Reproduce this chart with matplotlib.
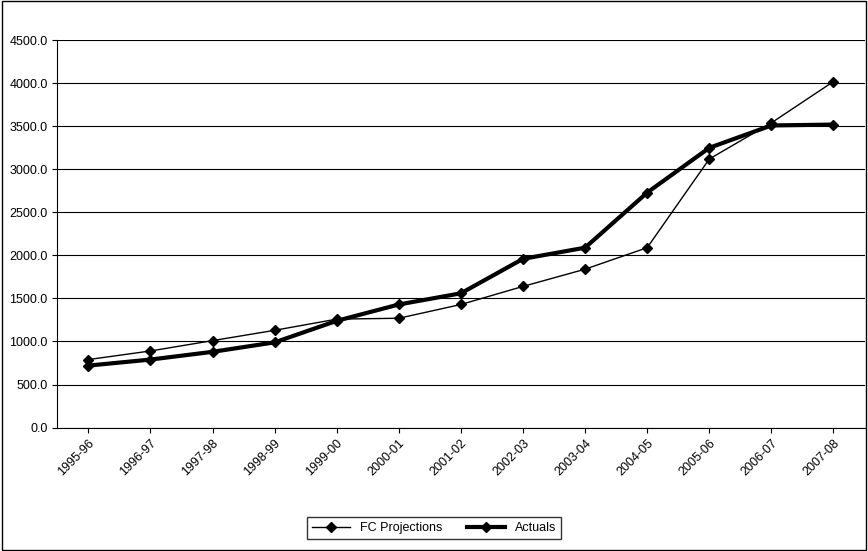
import matplotlib
matplotlib.use('Agg')
import matplotlib.pyplot as plt
from matplotlib.patches import Rectangle

years = ['1995-96', '1996-97', '1997-98', '1998-99', '1999-00', '2000-01', '2001-02',
         '2002-03', '2003-04', '2004-05', '2005-06', '2006-07', '2007-08']
fc_projections = [790, 890, 1010, 1130, 1260, 1270, 1430, 1640, 1840, 2090, 3120, 3540, 4020]
actuals = [720, 790, 880, 990, 1240, 1430, 1560, 1960, 2090, 2730, 3250, 3510, 3520]

fig = plt.figure(figsize=(8.68, 5.51), dpi=100)
fig.patches.append(Rectangle((0.002, 0.002), 0.996, 0.996, transform=fig.transFigure,
                             fill=False, edgecolor='black', linewidth=1))
ax = fig.add_axes([0.066, 0.224, 0.93, 0.703])

x = list(range(len(years)))
ax.plot(x, fc_projections, color='black', linewidth=1, marker='D', markersize=5,
        label='FC Projections')
ax.plot(x, actuals, color='black', linewidth=3, marker='D', markersize=5,
        label='Actuals')

ax.set_xlim(-0.5, len(years) - 0.5)
ax.set_ylim(0, 4500)
ax.set_yticks(range(0, 4501, 500))
ax.set_yticklabels(['%.1f' % v for v in range(0, 4501, 500)], fontsize=9,
                   family='Liberation Sans')
ax.set_xticks(x)
ax.set_xticklabels(years, rotation=45, ha='right', rotation_mode='anchor', fontsize=9,
                   family='Liberation Sans')
ax.grid(axis='y', color='black', linewidth=0.8)
ax.set_axisbelow(True)
for side in ['top', 'right']:
    ax.spines[side].set_visible(False)

fig.legend(loc='lower center', bbox_to_anchor=(0.5, 0.01), ncol=2, frameon=True,
           fancybox=False, edgecolor='black', prop={'family': 'Liberation Sans', 'size': 9},
           handlelength=3)

plt.savefig('out.png')
